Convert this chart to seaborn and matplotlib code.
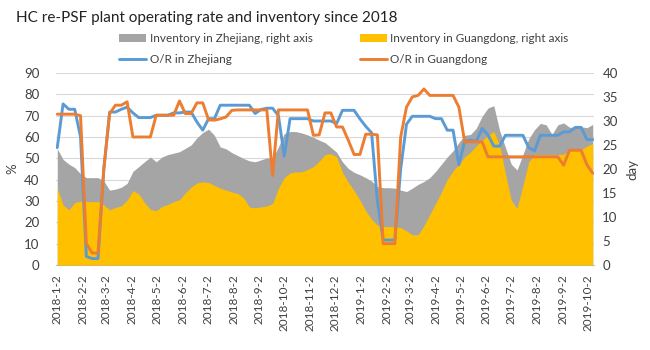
import matplotlib
matplotlib.use('Agg')
import matplotlib.pyplot as plt
import seaborn as sns
import pandas as pd

# weekly readings, 2018-01-02 .. 2019-10-08
dates = pd.date_range('2018-01-02', periods=93, freq='7D')

inv_zj = [24.2, 22, 21, 20.3, 19, 18.2, 18.2, 18.2, 17.5, 15.6,
          15.8, 16.2, 17, 19.5, 20.5, 21.5, 22.5, 21.5, 22.5, 23,
          23.3, 23.6, 24.3, 25, 26.5, 27.6, 28.3, 27, 24.6, 24.2,
          23.4, 22.8, 22.2, 21.7, 21.5, 21.9, 22.3, 22.3, 24.6, 27.4,
          27.8, 27.8, 27.5, 27.1, 26.6, 26, 25.5, 24.5, 23.5, 21.5,
          20.1, 19.3, 18.8, 18.2, 17.5, 16.3, 16.1, 16.1, 16.0, 15.6,
          15.3, 16, 16.8, 17.4, 18.2, 19.5, 21, 22.5, 23.8, 25.5,
          27, 27.2, 28.5, 31, 32.7, 33.2, 28, 24.5, 21, 19.8,
          23, 26.3, 28.2, 29.5, 29.2, 27.2, 29.2, 29.6, 28.7, 28.7,
          28.8, 28.6, 29.3]

inv_gd = [16, 12.5, 11.5, 13, 13.3, 13.2, 13.2, 13.2, 12.5, 11.5,
          12, 12.3, 13.5, 15.5, 14.8, 13, 11.6, 11.3, 12.2, 12.6,
          13.2, 13.6, 15.0, 16.2, 17.1, 17.3, 17.2, 16.6, 16, 15.6,
          15.2, 14.9, 14, 12.1, 11.9, 12.1, 12.3, 12.8, 16, 18.2,
          19.2, 19.4, 19.4, 19.9, 20.5, 21.6, 23, 23.2, 22.5, 19.3,
          17.2, 15.5, 13.5, 11.3, 9.5, 8.3, 8.0, 8.0, 8.0, 7.8,
          7.1, 6.3, 6.3, 8.2, 10.5, 12.8, 15.2, 17.8, 19.6, 21,
          22.5, 23.5, 24.8, 26, 27, 27.8, 25, 19, 13.5, 11.8,
          16.5, 21.5, 23, 23, 23, 23, 23, 23.1, 23.9, 23.9,
          24, 24.8, 25.3]

or_zj = [55, 75.5, 73, 73, 60, 4, 3, 3, 45, 71.7,
         71.7, 73, 74, 71.3, 69.1, 69.1, 69.1, 70.2, 70.2, 70.2,
         71.3, 71.3, 71.7, 71.7, 67, 63.2, 68.6, 68.6, 74.9, 74.9,
         74.9, 74.9, 74.9, 74.9, 71, 72.9, 73.5, 73.5, 70, 51,
         68.6, 68.6, 68.6, 68.6, 67.5, 67.5, 67.5, 67.5, 66.3, 72.5,
         72.5, 72.5, 68.5, 65, 62, 30, 11.7, 11.7, 11.7, 45,
         66, 69.7, 69.7, 69.7, 69.7, 68.6, 68.6, 63.2, 63.2, 47,
         58, 58.5, 58, 64, 61, 55.7, 55.7, 60.8, 60.8, 60.8,
         60.8, 55, 53.5, 60.8, 60.8, 60.8, 60.8, 62.4, 62.4, 64.5,
         64.5, 58.8, 58.8]

or_gd = [70.7, 70.7, 70.7, 70.7, 70, 10, 5.6, 5.6, 45, 71,
         74.9, 74.9, 76.5, 60, 60, 60, 60, 70.2, 70.2, 70.2,
         70.2, 76.9, 71, 71, 76, 76, 68, 67.9, 68.5, 69.4,
         72.5, 72.7, 72.7, 72.7, 72.7, 72.7, 72.7, 42, 72.7, 72.7,
         72.7, 72.7, 72.7, 72.7, 60.8, 61, 71.3, 71.3, 64.7, 64.7,
         58.5, 51.8, 51.8, 61.3, 61.3, 61, 10, 10, 10, 60,
         74, 78.8, 79.5, 82.5, 79.5, 79.5, 79.5, 79.5, 79.5, 74,
         57.7, 57.7, 57.7, 57.7, 50.7, 50.7, 50.7, 50.7, 50.7, 50.7,
         50.7, 50.7, 50.7, 50.7, 50.7, 50.7, 50.7, 46.8, 53.8, 53.8,
         53.8, 47, 43]

tick_dates = pd.date_range('2018-01-01', '2019-10-01', freq='MS') + pd.Timedelta(days=1)
tick_labels = [f"{d.year}-{d.month}-{d.day}" for d in tick_dates]

df = pd.DataFrame({'date': dates, 'inv_zj': inv_zj, 'inv_gd': inv_gd,
                   'or_zj': or_zj, 'or_gd': or_gd})

sns.set_style("white")
plt.rcParams['font.family'] = ['Lato', 'DejaVu Sans']

GRAY = '#A5A5A5'
YELLOW = '#FFC000'
BLUE = '#5B9BD5'
ORANGE = '#ED7D31'
TXT = '#404040'

fig = plt.figure(figsize=(6.5, 3.5), dpi=100)
ax = fig.add_axes([56/650, 1-265/350, (594-56)/650, (265-73)/350])
ax2 = ax.twinx()   # inventory, right axis
ax3 = ax.twinx()   # operating rates, drawn on top, same scale as left

ax2.fill_between(df['date'], df['inv_zj'], color=GRAY, lw=0,
                 label='Inventory in Zhejiang, right axis')
ax2.fill_between(df['date'], df['inv_gd'], color=YELLOW, lw=0,
                 label='Inventory in Guangdong, right axis')

sns.lineplot(data=df, x='date', y='or_zj', ax=ax3, color=BLUE, lw=2.1,
             label='O/R in Zhejiang', legend=False)
sns.lineplot(data=df, x='date', y='or_gd', ax=ax3, color=ORANGE, lw=2.1,
             label='O/R in Guangdong', legend=False)

ax.set_ylim(0, 90)
ax.set_yticks(range(0, 91, 10))
ax3.set_ylim(0, 90)
ax2.set_ylim(0, 40)
ax2.set_yticks(range(0, 41, 5))
ax.set_xlim(dates[0] - pd.Timedelta(days=1.5), dates[-1] + pd.Timedelta(days=1.5))

ax.grid(axis='y', color='#D9D9D9', lw=0.8)
ax.set_xticks(tick_dates)
ax.set_xticklabels(tick_labels, rotation=90, fontsize=8.5, color=TXT)
ax.tick_params(axis='x', length=4, width=0.8, color='#BFBFBF', pad=3)
ax.tick_params(axis='y', length=0, pad=12, labelsize=9.5, labelcolor=TXT)
ax2.tick_params(axis='y', length=0, pad=6, labelsize=9.5, labelcolor=TXT)
ax3.yaxis.set_visible(False)
for a in (ax, ax2, ax3):
    for s in a.spines.values():
        s.set_visible(False)
ax.spines['bottom'].set_visible(True)
ax.spines['bottom'].set_color('#BFBFBF')
ax.set_xlabel('')
ax3.set_xlabel('')
ax.set_ylabel('%', fontsize=9.5, color=TXT, labelpad=4)
ax2.set_ylabel('day', fontsize=9.5, color=TXT, labelpad=6)

fig.text(16/650, 1-18/350, 'HC re-PSF plant operating rate and inventory since 2018',
         fontsize=11, va='center', color='#222222')

h2, l2 = ax2.get_legend_handles_labels()
h3, l3 = ax3.get_legend_handles_labels()
handles = [h2[0], h3[0], h2[1], h3[1]]
labels = [l2[0], l3[0], l2[1], l3[1]]
fig.legend(handles, labels, loc='upper left', bbox_to_anchor=(113/650, 1-27/350),
           ncol=2, frameon=False, fontsize=8.5, borderpad=0, handlelength=2.3,
           handletextpad=0.3, columnspacing=4.0, labelspacing=0.85,
           labelcolor=TXT)

fig.savefig('out.png', dpi=100)
